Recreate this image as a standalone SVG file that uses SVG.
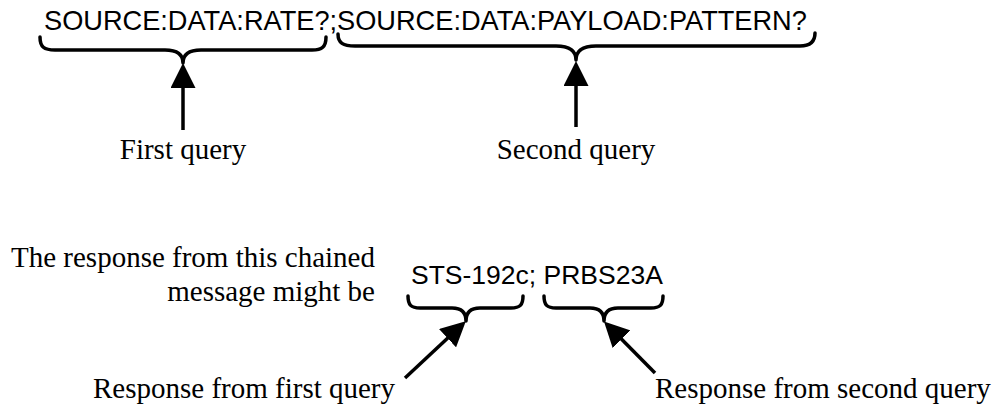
<svg xmlns="http://www.w3.org/2000/svg" width="1002" height="407" viewBox="0 0 1002 407">
<style>
.sans{font-family:"Liberation Sans",Arial,sans-serif;font-size:26.5px;fill:#000}
.big{font-size:27.2px}
.serif{font-family:"Liberation Serif","Times New Roman",serif;font-size:29px;fill:#000}
.brace{fill:none;stroke:#000;stroke-width:3.5;stroke-linecap:round;stroke-linejoin:round}
.arrow{fill:none;stroke:#000;stroke-width:3.5;marker-end:url(#head)}
</style>
<defs>
<marker id="head" markerUnits="userSpaceOnUse" viewBox="0 0 25 25" refX="15" refY="12.5" markerWidth="25" markerHeight="25" orient="auto">
<path d="M0,0 L25,12.5 L0,25 Z" fill="#000"/>
</marker>
</defs>
<rect width="1002" height="407" fill="#fff"/>
<g id="command">
<text class="sans big" x="44" y="30">SOURCE:DATA:RATE?;SOURCE:DATA:PAYLOAD:PATTERN?</text>
</g>
<g id="brace-first-query">
<path class="brace" d="M40,37 C40,47 44,50 55,50 L165,50 C176,50 183,54 183,63 C183,54 190,50 201,50 L312,50 C322,50 326,47 326,37"/>
</g>
<g id="brace-second-query">
<path class="brace" d="M338,34 C338,43 343,46 355,46 L556,46 C569,46 576,50 576,60 C576,50 583,46 596,46 L800,46 C810,46 815,42 815,33"/>
</g>
<g id="label-first-query">
<text class="serif" x="183" y="159" text-anchor="middle">First query</text>
</g>
<g id="label-second-query">
<text class="serif" x="576" y="159" text-anchor="middle">Second query</text>
</g>
<g id="label-response-intro">
<text class="serif" x="375" y="267" text-anchor="end">The response from this chained</text>
<text class="serif" x="375" y="301" text-anchor="end">message might be</text>
</g>
<g id="response">
<text class="sans" x="411" y="284">STS-192c; PRBS23A</text>
</g>
<g id="brace-response-first">
<path class="brace" d="M408,296 C408,305 411,308 420,308 L452,308 C461,308 466,312 466,321 C466,312 471,308 480,308 L511,308 C520,308 523,305 523,296"/>
</g>
<g id="brace-response-second">
<path class="brace" d="M544,296 C544,305 547,308 556,308 L590,308 C599,308 604,312 604,321 C604,312 609,308 618,308 L651,308 C660,308 663,305 663,296"/>
</g>
<g id="label-response-first">
<text class="serif" x="93" y="398">Response from first query</text>
</g>
<g id="label-response-second">
<text class="serif" x="655" y="398">Response from second query</text>
</g>
<g id="connectors">
<line class="arrow" x1="183" y1="130" x2="183" y2="73"/>
<line class="arrow" x1="576" y1="127" x2="576" y2="71"/>
<line class="arrow" x1="405" y1="378" x2="458.5" y2="328"/>
<line class="arrow" x1="655" y1="373" x2="611" y2="328.5"/>
</g>
</svg>
